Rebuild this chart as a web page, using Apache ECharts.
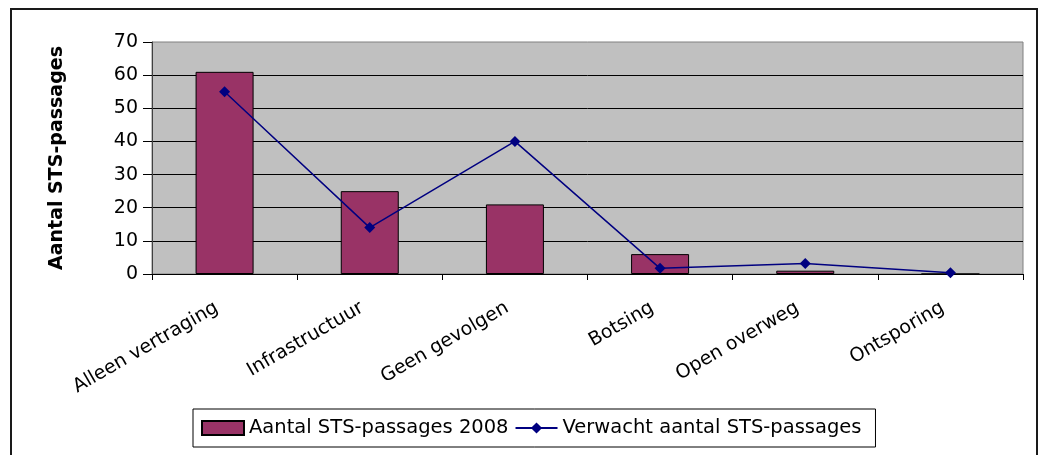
<!DOCTYPE html>
<html>
<head>
<meta charset="utf-8">
<title>STS-passages 2008</title>
<script src="https://cdn.jsdelivr.net/npm/echarts@6/dist/echarts.min.js"></script>
<style>
  html, body { margin: 0; padding: 0; background: #ffffff; }
  #chart { width: 1040px; height: 455px; }
</style>
</head>
<body>
<div id="chart"></div>
<script>
// Categories of signal passed at danger (STS) events
const categories = ['Alleen vertraging', 'Infrastructuur', 'Geen gevolgen', 'Botsing', 'Open overweg', 'Ontsporing'];
// Counted passages in 2008
const actual2008 = [61, 25, 21, 6, 1, 0];
// Expected number of passages
const expected = [55, 14, 40, 1.7, 3.2, 0.4];
// Value axis ticks
const yTicks = [0, 10, 20, 30, 40, 50, 60, 70];

const seriesNames = ['Aantal STS-passages 2008', 'Verwacht aantal STS-passages'];
const axisTitle = 'Aantal STS-passages';

const FONT = 'DejaVu Sans';
const chart = echarts.init(document.getElementById('chart'), null, { renderer: 'canvas' });

chart.setOption({
  backgroundColor: '#ffffff',
  animation: false,
  textStyle: { fontFamily: FONT, color: '#000000' },
  graphic: [{
    type: 'rect',
    z: 100,
    silent: true,
    shape: { x: 11, y: 9, width: 1026, height: 470 },
    style: { fill: 'none', stroke: '#1a1a1a', lineWidth: 2 }
  }],
  grid: {
    left: 152, right: 17, top: 42, bottom: 181,
    show: true,
    backgroundColor: '#c0c0c0',
    borderColor: '#808080',
    borderWidth: 1
  },
  legend: {
    left: 193, top: 409,
    padding: [9, 14, 9, 8],
    itemGap: 6,
    itemWidth: 42, itemHeight: 14,
    borderColor: '#000000', borderWidth: 1,
    textStyle: { fontFamily: FONT, fontSize: 19.5, color: '#000000' },
    data: [{ name: seriesNames[0], icon: 'rect' }, { name: seriesNames[1] }]
  },
  xAxis: {
    type: 'category',
    data: categories,
    axisLine: { lineStyle: { color: '#000000', width: 1 } },
    axisTick: { show: true, length: 6, lineStyle: { color: '#000000' } },
    axisLabel: {
      rotate: 30, margin: 28, padding: [0, 9, 0, 0],
      fontSize: 19, color: '#000000', fontFamily: FONT, interval: 0
    },
    splitLine: { show: false }
  },
  yAxis: {
    type: 'value',
    min: yTicks[0], max: yTicks[yTicks.length - 1], interval: 10,
    name: axisTitle,
    nameLocation: 'middle',
    nameGap: 85,
    nameTextStyle: { fontFamily: FONT, fontSize: 19, fontWeight: 'bold', color: '#000000' },
    axisLine: { show: true, lineStyle: { color: '#404040', width: 1 } },
    axisTick: { show: true, length: 9, lineStyle: { color: '#000000' } },
    axisLabel: { margin: 14, fontSize: 19, color: '#000000', fontFamily: FONT },
    splitLine: { show: true, showMaxLine: false, lineStyle: { color: '#000000', width: 1 } }
  },
  series: [
    {
      name: seriesNames[0],
      type: 'bar',
      data: actual2008,
      barWidth: 58,
      itemStyle: { color: '#993366', borderColor: '#000000', borderWidth: 1 }
    },
    {
      name: seriesNames[1],
      type: 'line',
      data: expected,
      symbol: 'diamond',
      symbolSize: 11,
      lineStyle: { color: '#000080', width: 1.5 },
      itemStyle: { color: '#000080' },
      z: 5
    }
  ]
});
</script>
</body>
</html>
